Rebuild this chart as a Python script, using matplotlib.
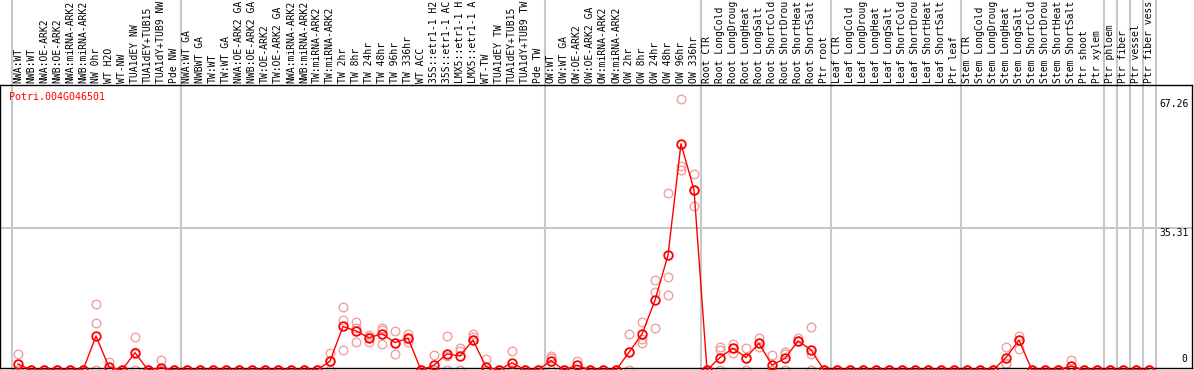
import matplotlib
matplotlib.use("Agg")
import matplotlib.pyplot as plt
from matplotlib.transforms import blended_transform_factory

# sample labels (header, rotated)
labels = [
    "NWA:WT", "NWB:WT", "NWA:OE-ARK2", "NWB:OE-ARK2", "NWA:miRNA-ARK2", "NWB:miRNA-ARK2",
    "NW 0hr", "WT H2O", "WT-NW", "TUA1dEY NW", "TUA1dEY+TUB15", "TUA1dY+TUB9 NW", "Pde NW",
    "NWA:WT GA", "NWBWT GA", "TW:WT", "TW:WT GA", "NWA:OE-ARK2 GA", "NWB:OE-ARK2 GA",
    "TW:OE-ARK2", "TW:OE-ARK2 GA", "NWA:miRNA-ARK2", "NWB:miRNA-ARK2", "TW:miRNA-ARK2",
    "TW:miRNA-ARK2", "TW 2hr", "TW 8hr", "TW 24hr", "TW 48hr", "TW 96hr", "TW 336hr",
    "WT ACC", "35S::etr1-1 H2", "35S::etr1-1 AC", "LMX5::etr1-1 H", "LMX5::etr1-1 A",
    "WT-TW", "TUA1dEY TW", "TUA1dEY+TUB15", "TUA1dY+TUB9 TW", "Pde TW",
    "OW:WT", "OW:WT GA", "OW:OE-ARK2", "OW:OE-ARK2 GA", "OW:miRNA-ARK2", "OW:miRNA-ARK2",
    "OW 2hr", "OW 8hr", "OW 24hr", "OW 48hr", "OW 96hr", "OW 336hr",
    "Root CTR", "Root LongCold", "Root LongDroug", "Root LongHeat", "Root LongSalt",
    "Root ShortCold", "Root ShortDrou", "Root ShortHeat", "Root ShortSalt", "Ptr root",
    "Leaf CTR", "Leaf LongCold", "Leaf LongDroug", "Leaf LongHeat", "Leaf LongSalt",
    "Leaf ShortCold", "Leaf ShortDrou", "Leaf ShortHeat", "Leaf ShortSalt", "Ptr leaf",
    "Stem CTR", "Stem LongCold", "Stem LongDroug", "Stem LongHeat", "Stem LongSalt",
    "Stem ShortCold", "Stem ShortDrou", "Stem ShortHeat", "Stem ShortSalt", "Ptr shoot",
    "Ptr xylem", "Ptr phloem", "Ptr fiber", "Ptr vessel", "Ptr fiber vess",
]

# group boundaries (index of the last sample in each block)
group_ends = [12, 40, 52, 62, 72, 83, 84, 85, 86, 87]

means = [
    1.5, 0, 0, 0, 0, 0, 8.4, 0.7, 0, 4.3,
    0, 0.6, 0, 0, 0, 0, 0, 0, 0, 0,
    0, 0, 0, 0, 2.2, 10.8, 9.7, 8.0, 9.0, 6.8,
    7.9, 0, 1.2, 4.0, 3.5, 7.4, 0.8, 0, 1.8, 0,
    0, 2.3, 0, 1.2, 0, 0, 0, 4.4, 8.9, 17.3,
    28.5, 56.1, 44.7, 0, 3.1, 5.4, 3.1, 6.6, 1.2, 2.9,
    7.2, 5.0, 0, 0, 0, 0, 0, 0, 0, 0,
    0, 0, 0, 0, 0, 0, 3.1, 7.4, 0, 0,
    0, 1.0, 0, 0, 0, 0, 0, 0,
]

rep1 = [
    4.0, 0, 0, 0, 0, 0, 16.4, 2.1, 0, 8.2,
    0, 2.5, 0, 0, 0, 0, 0, 0, 0, 0,
    0, 0, 0, 0, 4.3, 15.6, 11.8, 8.7, 10.5, 9.8,
    8.9, 0, 3.7, 8.4, 5.4, 8.9, 2.7, 0, 4.7, 0,
    0, 3.6, 0, 2.3, 0, 0, 0, 8.9, 12.0, 22.3,
    43.9, 67.26, 48.6, 0, 5.6, 6.4, 5.4, 8.0, 3.7, 4.5,
    8.0, 10.7, 0, 0, 0, 0, 0, 0, 0, 0,
    0, 0, 0, 0, 0, 0, 5.6, 8.5, 0, 0,
    0, 2.6, 0, 0, 0, 0, 0, 0,
]

rep2 = [
    0, 0, 0, 0, 0, 0, 11.7, 0, 0, 4.5,
    0, 0, 0, 0, 0, 0, 0, 0, 0, 0,
    0, 0, 0, 0, 2.2, 12.4, 6.9, 7.0, 9.9, 4.0,
    7.0, 0, 0, 3.5, 4.8, 8.1, 0, 0, 0, 0,
    0, 3.1, 0, 0, 0, 0, 0, 4.4, 7.7, 19.4,
    23.1, 50.7, 44.7, 0, 5.0, 4.3, 3.1, 5.8, 0, 4.0,
    7.2, 4.0, 0, 0, 0, 0, 0, 0, 0, 0,
    0, 0, 0, 0, 0, 0, 1.8, 5.1, 0, 0,
    0, 0, 0, 0, 0, 0, 0, 0,
]

rep3 = [
    0, 0, 0, 0, 0, 0, 0, 0, 0, 0,
    0, 0, 0, 0, 0, 0, 0, 0, 0, 0,
    0, 0, 0, 0, 0, 5.0, 10.4, 8.2, 6.4, 6.6,
    7.8, 0, 0, 0, 0, 7.4, 0, 0, 0, 0,
    0, 0, 0, 0, 0, 0, 0, 0, 6.7, 10.5,
    18.6, 49.5, 40.6, 0, 0, 5.4, 0, 6.6, 0, 0,
    7.2, 0, 0, 0, 0, 0, 0, 0, 0, 0,
    0, 0, 0, 0, 0, 0, 1.5, 7.4, 0, 0,
    0, 0, 0, 0, 0, 0, 0, 0,
]

gene = "Potri.004G046501"
y_max_label = 67.26
y_mid_label = 35.31

W, H = 1194, 370
fig = plt.figure(figsize=(W / 100, H / 100), dpi=100)
ax = fig.add_axes([0, 2 / H, 1192 / W, (368 - 85) / H])

mono = "DejaVu Sans Mono"
grey = "#c8c8c8"
pink = "#f0a0a0"

x = list(range(len(labels)))

# replicates behind
for rep in (rep1, rep2, rep3):
    ax.plot(x, rep, linestyle="none", marker="o", markersize=6.2, markerfacecolor="none",
            markeredgecolor=pink, markeredgewidth=1.0, clip_on=False, zorder=2)

# mean line
ax.plot(x, means, color="red", linewidth=1, marker="o", markersize=6.2,
        markerfacecolor="none", markeredgecolor="red", markeredgewidth=1.3,
        clip_on=False, zorder=3)

ax.set_xlim(-18 / 13, (1192 - 18) / 13)
ax.set_ylim(0.5, 70.7)
ax.set_xticks([])
ax.set_yticks([])
for s in ax.spines.values():
    s.set_color("black")
    s.set_linewidth(1)

# grey separators through the header too
tr = blended_transform_factory(ax.transData, fig.transFigure)
for b in [-0.5] + [g + 0.5 for g in group_ends]:
    ax.plot([b, b], [0, 1], transform=tr, color=grey, linewidth=1.5, clip_on=False, zorder=0)

ax.axhline(y_mid_label, color=grey, linewidth=1.5, zorder=0)

# header labels
tl = blended_transform_factory(ax.transData, ax.transAxes)
for i, lab in enumerate(labels):
    ax.text(i, 1 + 2 / 283, lab, transform=tl, rotation=90, ha="center", va="bottom",
            fontsize=7, family=mono, clip_on=False)

ax.text(9 / 1192, 1 - 12 / 283, gene, transform=ax.transAxes, color="red",
        fontsize=7.2, family=mono, ha="left", va="center")

ty = blended_transform_factory(ax.transAxes, ax.transData)
ax.text(1189 / 1192, y_max_label, f"{y_max_label}", transform=ty, ha="right", va="top",
        fontsize=7, family=mono)
ax.text(1189 / 1192, y_mid_label, f"{y_mid_label}", transform=ty, ha="right", va="top",
        fontsize=7, family=mono)
ax.text(1187 / 1192, 1.5, "0", transform=ty, ha="right", va="bottom",
        fontsize=7, family=mono)

fig.savefig("out.png", dpi=100)
